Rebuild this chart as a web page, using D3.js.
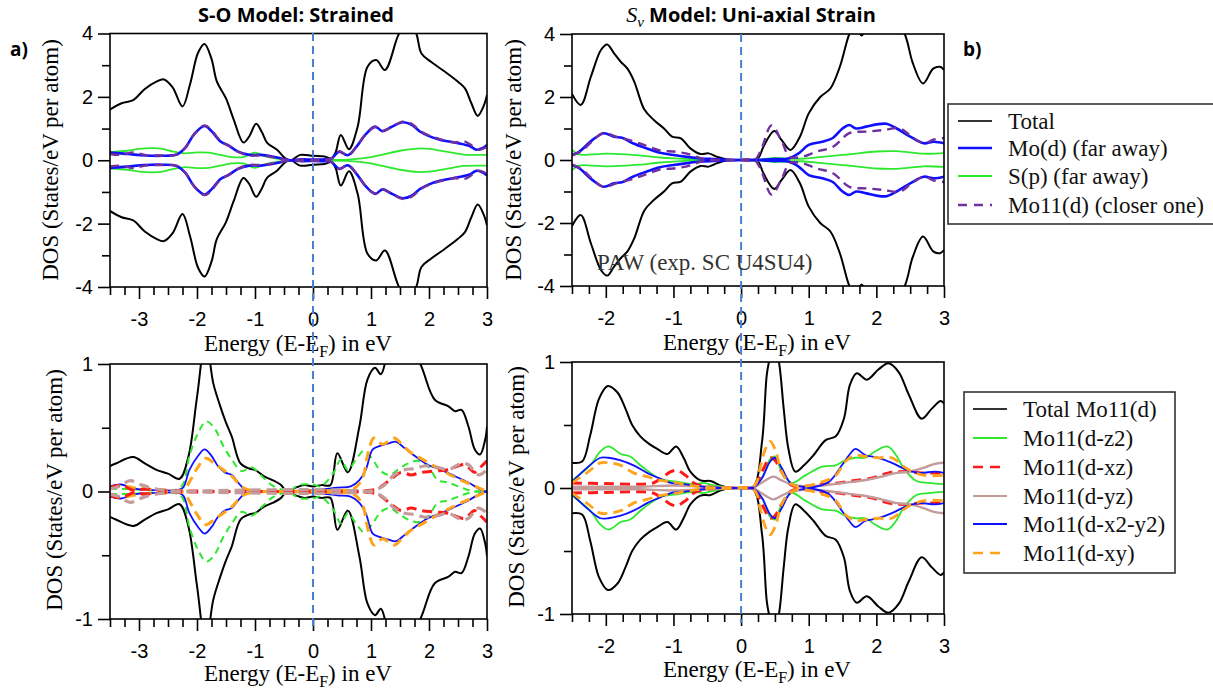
<!DOCTYPE html>
<html>
<head>
<meta charset="utf-8">
<script src="https://cdn.jsdelivr.net/npm/d3@7"></script>
<style>
  body { margin: 0; background: #fff; }
  svg { display: block; }
</style>
</head>
<body>
<script>
// ---------- Data: spin-up DOS, [energy (eV), DOS] ----------
// Panel a) S-O model, strained — atom-resolved DOS
const aTopTotal = [[-3.5,1.6],[-3.3,1.8],[-3.1,1.9],[-2.9,2.25],[-2.7,2.48],[-2.57,2.55],[-2.42,2.3],[-2.25,1.7],[-2.12,2.4],[-1.98,3.4],[-1.87,3.67],[-1.75,3.2],[-1.66,2.5],[-1.5,1.95],[-1.37,1.3],[-1.2,0.56],[-1.1,0.75],[-0.98,1.15],[-0.88,0.88],[-0.79,0.55],[-0.62,0.33],[-0.47,0.05],[-0.38,0.0],[-0.22,0.17],[0.0,0.14],[0.2,0.12],[0.32,0.06],[0.39,0.25],[0.48,0.8],[0.62,0.35],[0.77,1.06],[0.94,2.95],[1.09,3.16],[1.24,2.85],[1.46,3.9],[1.62,4.5],[1.78,4.0],[1.87,3.37],[2.04,3.1],[2.27,2.8],[2.5,2.48],[2.62,2.27],[2.73,1.8],[2.84,1.4],[2.94,1.7],[3.0,2.06]];
const aTopMo = [[-3.5,0.24],[-3.2,0.2],[-2.9,0.15],[-2.6,0.14],[-2.35,0.18],[-2.2,0.4],[-2.05,0.82],[-1.87,1.08],[-1.75,0.92],[-1.6,0.6],[-1.45,0.46],[-1.3,0.28],[-1.1,0.17],[-0.9,0.17],[-0.7,0.12],[-0.5,0.04],[-0.4,0.0],[-0.2,0.03],[0.0,0.02],[0.2,0.03],[0.32,0.06],[0.45,0.27],[0.6,0.16],[0.75,0.43],[0.9,0.8],[1.07,1.06],[1.2,0.92],[1.35,1.05],[1.55,1.2],[1.7,1.12],[1.85,0.9],[2.0,0.76],[2.2,0.64],[2.5,0.54],[2.7,0.45],[2.82,0.33],[2.92,0.38],[3.0,0.48]];
const aTopS = [[-3.5,0.26],[-3.2,0.3],[-3.0,0.36],[-2.75,0.38],[-2.6,0.36],[-2.4,0.27],[-2.2,0.22],[-2.0,0.25],[-1.8,0.24],[-1.6,0.17],[-1.4,0.1],[-1.2,0.1],[-1.0,0.24],[-0.85,0.14],[-0.65,0.06],[-0.45,0.01],[-0.2,0.01],[0.2,0.01],[0.6,0.02],[1.0,0.1],[1.2,0.18],[1.5,0.3],[1.8,0.37],[2.0,0.36],[2.3,0.27],[2.6,0.18],[3.0,0.17]];
const aTopMo11 = [[-3.5,0.2],[-3.3,0.17],[-3.1,0.25],[-2.9,0.17],[-2.6,0.15],[-2.35,0.18],[-2.2,0.4],[-2.05,0.82],[-1.87,1.1],[-1.75,0.95],[-1.6,0.62],[-1.45,0.45],[-1.3,0.27],[-1.1,0.15],[-0.9,0.15],[-0.7,0.1],[-0.5,0.03],[-0.4,0.0],[-0.2,0.02],[0.0,0.02],[0.2,0.02],[0.32,0.05],[0.45,0.28],[0.6,0.15],[0.75,0.42],[0.9,0.8],[1.07,1.05],[1.2,0.92],[1.35,1.05],[1.55,1.22],[1.7,1.15],[1.85,0.92],[2.0,0.78],[2.2,0.66],[2.45,0.56],[2.6,0.6],[2.75,0.45],[2.85,0.33],[2.95,0.38],[3.0,0.45]];

// Panel b) Sv model, uni-axial strain — atom-resolved DOS
const bTopTotal = [[-2.5,2.1],[-2.37,1.75],[-2.22,2.65],[-2.07,3.5],[-1.98,3.67],[-1.88,3.39],[-1.78,3.12],[-1.68,2.9],[-1.58,2.49],[-1.43,1.6],[-1.29,1.27],[-1.14,1.0],[-1.02,0.74],[-0.89,0.69],[-0.75,0.37],[-0.6,0.19],[-0.48,0.21],[-0.35,0.1],[-0.21,0.02],[0.0,0.0],[0.18,0.0],[0.26,0.08],[0.33,0.42],[0.49,0.92],[0.6,0.63],[0.73,0.32],[0.87,0.74],[1.0,1.48],[1.17,2.0],[1.32,2.27],[1.46,2.96],[1.6,4.0],[1.7,4.4],[1.78,3.95],[1.95,4.6],[2.15,5.0],[2.42,4.0],[2.54,3.07],[2.69,2.43],[2.84,2.9],[2.94,2.96],[3.0,2.86]];
const bTopMo = [[-2.5,0.16],[-2.4,0.25],[-2.2,0.63],[-2.03,0.85],[-1.88,0.74],[-1.75,0.7],[-1.6,0.53],[-1.4,0.37],[-1.2,0.23],[-1.0,0.16],[-0.8,0.1],[-0.6,0.05],[-0.4,0.03],[-0.2,0.01],[0.0,0.0],[0.3,0.01],[0.5,0.03],[0.7,0.05],[0.85,0.21],[1.0,0.48],[1.2,0.58],[1.35,0.69],[1.5,1.0],[1.6,1.11],[1.7,1.0],[1.85,1.06],[2.0,1.13],[2.15,1.15],[2.3,1.0],[2.5,0.74],[2.7,0.53],[2.85,0.58],[3.0,0.53]];
const bTopS = [[-2.5,0.32],[-2.4,0.18],[-2.2,0.18],[-2.0,0.2],[-1.7,0.18],[-1.5,0.15],[-1.2,0.08],[-1.0,0.05],[-0.7,0.02],[-0.4,0.01],[0.0,0.0],[0.3,0.02],[0.5,0.07],[0.7,0.04],[0.9,0.04],[1.2,0.1],[1.6,0.18],[2.0,0.27],[2.3,0.28],[2.7,0.2],[3.0,0.22]];
const bTopMo11 = [[-2.5,0.15],[-2.35,0.3],[-2.2,0.6],[-2.03,0.86],[-1.85,0.74],[-1.6,0.6],[-1.4,0.45],[-1.2,0.3],[-1.0,0.27],[-0.8,0.2],[-0.6,0.06],[-0.4,0.01],[0.0,0.0],[0.2,0.0],[0.3,0.35],[0.45,1.1],[0.6,0.6],[0.72,0.1],[0.9,0.1],[1.12,0.27],[1.36,0.42],[1.6,0.85],[1.85,0.9],[2.1,0.95],[2.35,1.0],[2.5,0.78],[2.7,0.53],[2.85,0.65],[3.0,0.7]];

// Mo11 orbital-resolved DOS, panel a)
const aBotTotal = [[-3.5,0.2],[-3.4,0.22],[-3.1,0.27],[-2.9,0.22],[-2.7,0.17],[-2.5,0.14],[-2.3,0.1],[-2.15,0.27],[-2.0,0.74],[-1.85,1.2],[-1.72,0.85],[-1.6,0.67],[-1.5,0.54],[-1.4,0.43],[-1.25,0.22],[-1.1,0.18],[-1.0,0.17],[-0.85,0.12],[-0.7,0.09],[-0.55,0.05],[-0.45,0.0],[-0.3,0.03],[-0.15,0.05],[0.0,0.04],[0.15,0.05],[0.3,0.05],[0.42,0.3],[0.6,0.15],[0.8,0.51],[0.94,0.88],[1.07,0.97],[1.17,0.92],[1.3,1.1],[1.55,1.3],[1.87,0.98],[2.1,0.72],[2.33,0.67],[2.45,0.63],[2.56,0.64],[2.68,0.51],[2.79,0.33],[2.88,0.29],[2.97,0.41],[3.0,0.51]];
const aBotZ2 = [[-3.5,0.02],[-3.2,0.02],[-2.8,0.01],[-2.4,0.01],[-2.25,0.05],[-2.13,0.28],[-1.98,0.46],[-1.84,0.55],[-1.69,0.49],[-1.55,0.36],[-1.4,0.25],[-1.23,0.16],[-1.06,0.19],[-0.88,0.12],[-0.71,0.05],[-0.54,0.015],[-0.42,0.0],[-0.25,0.05],[0.0,0.055],[0.13,0.04],[0.36,0.15],[0.48,0.25],[0.6,0.17],[0.74,0.25],[0.88,0.32],[1.03,0.25],[1.17,0.16],[1.32,0.13],[1.46,0.17],[1.64,0.22],[1.81,0.24],[1.98,0.2],[2.15,0.09],[2.33,0.07],[2.56,0.03],[2.79,0.0],[3.0,0.0]];
const aBotXZ = [[-3.5,0.03],[-3.3,0.05],[-3.1,0.01],[-2.9,0.02],[-2.6,0.01],[-2.3,0.005],[0.8,0.005],[1.1,0.02],[1.35,0.1],[1.52,0.15],[1.69,0.13],[1.87,0.15],[2.1,0.16],[2.33,0.17],[2.5,0.2],[2.62,0.21],[2.79,0.15],[2.91,0.2],[3.0,0.24]];
const aBotYZ = [[-3.5,0.02],[-3.35,0.04],[-3.15,0.085],[-2.95,0.05],[-2.7,0.02],[-2.4,0.005],[1.0,0.005],[1.2,0.04],[1.4,0.13],[1.58,0.17],[1.75,0.18],[1.92,0.2],[2.15,0.19],[2.33,0.17],[2.56,0.22],[2.68,0.21],[2.85,0.13],[3.0,0.17]];
const aBotX2Y2 = [[-3.5,0.04],[-3.31,0.055],[-3.14,0.03],[-2.97,0.015],[-2.6,0.01],[-2.35,0.01],[-2.24,0.03],[-2.13,0.17],[-1.98,0.28],[-1.87,0.33],[-1.75,0.28],[-1.64,0.2],[-1.52,0.15],[-1.4,0.13],[-1.29,0.07],[-1.17,0.015],[-1.0,0.005],[-0.5,0.005],[0.0,0.01],[0.42,0.03],[0.65,0.04],[0.8,0.09],[0.91,0.17],[1.03,0.33],[1.17,0.36],[1.32,0.38],[1.43,0.39],[1.58,0.34],[1.75,0.28],[1.98,0.21],[2.21,0.17],[2.45,0.12],[2.68,0.07],[2.91,0.01],[3.0,0.0]];
const aBotXY = [[-3.5,0.03],[-3.3,0.045],[-3.1,0.03],[-2.9,0.02],[-2.5,0.01],[-2.24,0.01],[-2.1,0.1],[-2.0,0.18],[-1.85,0.26],[-1.7,0.22],[-1.55,0.17],[-1.4,0.12],[-1.2,0.03],[-1.0,0.005],[0.0,0.005],[0.5,0.01],[0.7,0.02],[0.85,0.1],[0.95,0.3],[1.05,0.42],[1.2,0.37],[1.4,0.42],[1.55,0.36],[1.7,0.3],[1.9,0.25],[2.2,0.17],[2.5,0.1],[2.8,0.04],[3.0,0.0]];

// Mo11 orbital-resolved DOS, panel b)
const bBotTotal = [[-2.5,0.2],[-2.35,0.21],[-2.23,0.42],[-2.1,0.71],[-1.97,0.81],[-1.83,0.76],[-1.71,0.63],[-1.61,0.5],[-1.49,0.41],[-1.36,0.35],[-1.24,0.31],[-1.09,0.27],[-0.96,0.33],[-0.85,0.24],[-0.75,0.13],[-0.6,0.06],[-0.45,0.055],[-0.31,0.02],[-0.16,0.0],[0.0,0.0],[0.18,0.01],[0.31,0.37],[0.38,0.9],[0.42,1.02],[0.49,1.15],[0.56,1.0],[0.63,0.63],[0.7,0.31],[0.8,0.13],[0.93,0.18],[1.07,0.26],[1.25,0.38],[1.4,0.41],[1.52,0.55],[1.61,0.82],[1.71,0.91],[1.86,0.86],[2.03,0.94],[2.18,0.99],[2.33,0.92],[2.48,0.74],[2.67,0.55],[2.82,0.63],[2.95,0.69],[3.0,0.67]];
const bBotZ2 = [[-2.5,0.06],[-2.23,0.18],[-2.08,0.29],[-1.96,0.33],[-1.78,0.27],[-1.64,0.25],[-1.49,0.18],[-1.34,0.12],[-1.19,0.07],[-0.95,0.05],[-0.7,0.03],[-0.55,0.04],[-0.4,0.02],[-0.2,0.005],[0.0,0.0],[0.2,0.01],[0.31,0.08],[0.43,0.23],[0.5,0.25],[0.6,0.13],[0.75,0.04],[0.95,0.1],[1.2,0.17],[1.4,0.18],[1.54,0.22],[1.69,0.24],[1.84,0.24],[1.98,0.29],[2.16,0.33],[2.28,0.27],[2.4,0.16],[2.58,0.06],[2.77,0.04],[3.0,0.03]];
const bBotXZ = [[-2.5,0.04],[-2.0,0.035],[-1.5,0.03],[-1.3,0.04],[-1.17,0.08],[-1.04,0.13],[-0.95,0.14],[-0.82,0.1],[-0.7,0.04],[-0.5,0.01],[0.0,0.0],[0.2,0.02],[0.31,0.13],[0.43,0.24],[0.5,0.22],[0.6,0.13],[0.75,0.02],[1.2,0.03],[1.44,0.04],[1.69,0.06],[1.94,0.08],[2.18,0.12],[2.43,0.13],[2.67,0.12],[3.0,0.12]];
const bBotYZ = [[-2.5,0.01],[-2.0,0.01],[-1.5,0.01],[-1.0,0.02],[-0.5,0.01],[0.0,0.0],[0.2,0.01],[0.3,0.04],[0.48,0.09],[0.6,0.06],[0.8,0.02],[1.2,0.02],[1.5,0.04],[1.8,0.06],[2.0,0.08],[2.3,0.12],[2.5,0.13],[2.7,0.16],[2.85,0.19],[3.0,0.2]];
const bBotX2Y2 = [[-2.5,0.05],[-2.28,0.16],[-2.08,0.24],[-1.96,0.24],[-1.78,0.22],[-1.59,0.18],[-1.39,0.12],[-1.22,0.08],[-1.04,0.04],[-0.85,0.03],[-0.55,0.01],[0.0,0.0],[0.2,0.01],[0.31,0.08],[0.43,0.21],[0.5,0.24],[0.6,0.16],[0.73,0.04],[0.9,0.01],[1.1,0.01],[1.3,0.05],[1.49,0.18],[1.61,0.27],[1.69,0.31],[1.84,0.26],[2.03,0.24],[2.23,0.2],[2.38,0.16],[2.53,0.13],[2.67,0.12],[2.86,0.13],[3.0,0.12]];
const bBotXY = [[-2.5,0.04],[-2.28,0.12],[-2.08,0.2],[-1.96,0.2],[-1.78,0.18],[-1.59,0.12],[-1.39,0.09],[-1.19,0.06],[-1.0,0.045],[-0.75,0.02],[-0.5,0.005],[0.0,0.0],[0.2,0.02],[0.28,0.16],[0.36,0.31],[0.43,0.37],[0.5,0.31],[0.6,0.13],[0.7,0.05],[0.85,0.01],[1.2,0.05],[1.4,0.1],[1.54,0.21],[1.69,0.26],[1.84,0.25],[2.03,0.24],[2.23,0.24],[2.38,0.18],[2.53,0.13],[2.72,0.1],[3.0,0.1]];

// Axis ticks and labels
const xTicksA = [-3, -2, -1, 0, 1, 2, 3];
const xTicksB = [-2, -1, 0, 1, 2, 3];
const yTicksTop = [-4, -2, 0, 2, 4];
const yMinorTop = [-3, -1, 1, 3];
const yTicksBot = [-1, 0, 1];
const yMinorBot = [-0.5, 0.5];
const legendTop = ["Total", "Mo(d) (far away)", "S(p) (far away)", "Mo11(d) (closer one)"];
const legendBot = ["Total Mo11(d)", "Mo11(d-z2)", "Mo11(d-xz)", "Mo11(d-yz)", "Mo11(d-x2-y2)", "Mo11(d-xy)"];

// ---------- Styles ----------
const C = {
  black: "#000", blue: "#1010ff", green: "#2ee82e", purple: "#7030a0",
  red: "#ff1a1a", brown: "#c49b9b", orange: "#ffa31a", zero: "#4a80d4"
};
const SERIF = "'Liberation Serif', 'Times New Roman', serif";
const SANS = "'Liberation Sans', Arial, sans-serif";

const W = 1213, H = 693;
const svg = d3.select("body").append("svg").attr("width", W).attr("height", H);

let clipId = 0;
function panel(cfg) {
  const x = d3.scaleLinear().domain(cfg.xDomain).range(cfg.xRange);
  const y = d3.scaleLinear().domain(cfg.yDomain).range(cfg.yRange);
  const g = svg.append("g");
  const id = "clip" + (clipId++);
  g.append("clipPath").attr("id", id).append("rect")
    .attr("x", cfg.xRange[0]).attr("y", cfg.yRange[1])
    .attr("width", cfg.xRange[1] - cfg.xRange[0]).attr("height", cfg.yRange[0] - cfg.yRange[1]);

  const plot = g.append("g").attr("clip-path", `url(#${id})`);
  cfg.series.forEach(s => {
    [1, -1].forEach(sign => {   // spin-up above, spin-down mirrored below
      const line = d3.line()
        .x(d => x(d[0])).y(d => y(sign * d[1]))
        .curve(d3.curveCatmullRom.alpha(0.5));
      plot.append("path").datum(s.data)
        .attr("d", line).attr("fill", "none")
        .attr("stroke", s.color).attr("stroke-width", s.width)
        .attr("stroke-dasharray", s.dash || null)
        .attr("stroke-linejoin", "round");
    });
  });

  // x axis: major + minor ticks
  const xMinor = d3.range(cfg.xDomain[0], cfg.xDomain[1] + 0.001, 0.25).filter(v => Math.abs(v - Math.round(v)) > 1e-6);
  const xa = g.append("g").attr("transform", `translate(0,${cfg.yRange[0]})`)
    .call(d3.axisBottom(x).tickValues(cfg.xTicks).tickSize(12).tickPadding(13).tickFormat(d => String(d)));
  const xm = g.append("g").attr("transform", `translate(0,${cfg.yRange[0]})`)
    .call(d3.axisBottom(x).tickValues(xMinor).tickSize(8).tickFormat(""));
  const ya = g.append("g").attr("transform", `translate(${cfg.xRange[0]},0)`)
    .call(d3.axisLeft(y).tickValues(cfg.yTicks).tickSize(12).tickPadding(5).tickFormat(d => String(d)));
  const ym = g.append("g").attr("transform", `translate(${cfg.xRange[0]},0)`)
    .call(d3.axisLeft(y).tickValues(cfg.yMinor).tickSize(8).tickFormat(""));
  [xa, xm, ya, ym].forEach(a => {
    a.select(".domain").remove();
    a.selectAll(".tick line").attr("stroke", "#000").attr("stroke-width", 1.6);
    a.selectAll("text").attr("font-family", SANS).attr("font-size", 20).attr("fill", "#000");
  });

  // frame
  g.append("rect")
    .attr("x", cfg.xRange[0]).attr("y", cfg.yRange[1])
    .attr("width", cfg.xRange[1] - cfg.xRange[0]).attr("height", cfg.yRange[0] - cfg.yRange[1])
    .attr("fill", "none").attr("stroke", "#000").attr("stroke-width", 1.6);

  // axis titles
  const xl = g.append("text").attr("x", cfg.xLabel[0]).attr("y", cfg.xLabel[1])
    .attr("text-anchor", "middle").attr("font-family", SERIF).attr("font-size", 23).attr("fill", "#000");
  xl.append("tspan").text("Energy (E-E");
  xl.append("tspan").attr("font-size", 16).attr("dy", 6).text("F");
  xl.append("tspan").attr("dy", -6).text(") in eV");

  g.append("text")
    .attr("transform", `translate(${cfg.yLabel[0]},${cfg.yLabel[1]}) rotate(-90)`)
    .attr("text-anchor", "middle").attr("font-family", SERIF).attr("font-size", 23).attr("fill", "#000")
    .text("DOS (States/eV per atom)");
  return { x, y };
}

const topStyles = (tot, mo, s, mo11) => [
  { data: tot, color: C.black, width: 2 },
  { data: s, color: C.green, width: 1.8 },
  { data: mo, color: C.blue, width: 2.6 },
  { data: mo11, color: C.purple, width: 2.4, dash: "9,6" }
];

panel({
  xDomain: [-3.5, 3], xRange: [110, 487], yDomain: [-4, 4], yRange: [287, 33.5],
  xTicks: xTicksA, yTicks: yTicksTop, yMinor: yMinorTop,
  xLabel: [298, 351], yLabel: [58, 160],
  series: topStyles(aTopTotal, aTopMo, aTopS, aTopMo11)
});
panel({
  xDomain: [-2.5, 3], xRange: [572, 944], yDomain: [-4, 4], yRange: [286, 34],
  xTicks: xTicksB, yTicks: yTicksTop, yMinor: yMinorTop,
  xLabel: [757, 350], yLabel: [521, 160],
  series: topStyles(bTopTotal, bTopMo, bTopS, bTopMo11)
});
panel({
  xDomain: [-3.5, 3], xRange: [110, 487], yDomain: [-1, 1], yRange: [619, 364],
  xTicks: xTicksA, yTicks: yTicksBot, yMinor: yMinorBot,
  xLabel: [298, 681], yLabel: [62, 490],
  series: [
    { data: aBotTotal, color: C.black, width: 2 },
    { data: aBotZ2, color: C.green, width: 2, dash: "7,5" },
    { data: aBotX2Y2, color: C.blue, width: 1.8 },
    { data: aBotXY, color: C.orange, width: 3, dash: "10,6" },
    { data: aBotXZ, color: C.red, width: 3, dash: "10,6" },
    { data: aBotYZ, color: C.brown, width: 3.2, dash: "10,6" }
  ]
});
panel({
  xDomain: [-2.5, 3], xRange: [572, 944], yDomain: [-1, 1], yRange: [614, 362],
  xTicks: xTicksB, yTicks: yTicksBot, yMinor: yMinorBot,
  xLabel: [757, 677], yLabel: [524, 487],
  series: [
    { data: bBotTotal, color: C.black, width: 2 },
    { data: bBotZ2, color: C.green, width: 1.8 },
    { data: bBotXZ, color: C.red, width: 3, dash: "10,6" },
    { data: bBotYZ, color: C.brown, width: 2.4 },
    { data: bBotX2Y2, color: C.blue, width: 1.8 },
    { data: bBotXY, color: C.orange, width: 2.8, dash: "10,6" }
  ]
});

// Fermi level markers
const xa0 = d3.scaleLinear().domain([-3.5, 3]).range([110, 487]);
const xb0 = d3.scaleLinear().domain([-2.5, 3]).range([572, 944]);
[[xa0(0), 33, 627], [xb0(0), 34, 623]].forEach(([xx, y0, y1]) => {
  svg.append("line").attr("x1", xx).attr("x2", xx).attr("y1", y0).attr("y2", y1)
    .attr("stroke", C.zero).attr("stroke-width", 2).attr("stroke-dasharray", "8,5");
});

// Panel titles and tags
svg.append("text").attr("x", 296).attr("y", 21.5).attr("text-anchor", "middle")
  .attr("font-family", "'Open Sans', sans-serif").attr("font-weight", 700).attr("font-size", 20)
  .text("S-O Model: Strained");
const tb = svg.append("text").attr("x", 751).attr("y", 21.5).attr("text-anchor", "middle")
  .attr("font-family", "'Open Sans', sans-serif").attr("font-weight", 700).attr("font-size", 20);
tb.append("tspan").attr("font-family", SERIF).attr("font-style", "italic").attr("font-weight", 400).attr("font-size", 22).text("S");
tb.append("tspan").attr("font-family", SERIF).attr("font-style", "italic").attr("font-weight", 400).attr("font-size", 15).attr("dy", 5).text("v");
tb.append("tspan").attr("dy", -5).text(" Model: Uni-axial Strain");

svg.append("text").attr("x", 10).attr("y", 56).attr("font-family", "'Open Sans', sans-serif")
  .attr("font-weight", 700).attr("font-size", 19).text("a)");
svg.append("text").attr("x", 963).attr("y", 56).attr("font-family", "'Open Sans', sans-serif")
  .attr("font-weight", 700).attr("font-size", 19).text("b)");

svg.append("text").attr("x", 597).attr("y", 270).attr("font-family", SERIF).attr("font-size", 23)
  .attr("fill", "#333").text("PAW (exp. SC U4SU4)");

// Legends
function legend(box, rows, x0, x1, tx, items) {
  svg.append("rect").attr("x", box[0]).attr("y", box[1]).attr("width", box[2]).attr("height", box[3])
    .attr("fill", "#fff").attr("stroke", "#333").attr("stroke-width", 1.6);
  items.forEach((it, i) => {
    svg.append("line").attr("x1", x0).attr("x2", x1).attr("y1", rows[i]).attr("y2", rows[i])
      .attr("stroke", it.color).attr("stroke-width", it.width).attr("stroke-dasharray", it.dash || null);
    svg.append("text").attr("x", tx).attr("y", rows[i] + 8).attr("font-family", SERIF)
      .attr("font-size", 23).attr("fill", "#111").text(it.label);
  });
}
legend([948, 104, 266, 120], [121, 148, 176, 205], 958, 992, 1008, [
  { label: legendTop[0], color: "#333", width: 2 },
  { label: legendTop[1], color: C.blue, width: 2.6 },
  { label: legendTop[2], color: C.green, width: 2 },
  { label: legendTop[3], color: C.purple, width: 2.4, dash: "9,7" }
]);
legend([964, 392, 211, 181], [409, 438, 467, 496, 524, 553], 973, 1007, 1023, [
  { label: legendBot[0], color: "#333", width: 2 },
  { label: legendBot[1], color: C.green, width: 2 },
  { label: legendBot[2], color: C.red, width: 2.6, dash: "10,7" },
  { label: legendBot[3], color: C.brown, width: 2 },
  { label: legendBot[4], color: C.blue, width: 2 },
  { label: legendBot[5], color: C.orange, width: 2.6, dash: "10,7" }
]);
</script>
</body>
</html>
